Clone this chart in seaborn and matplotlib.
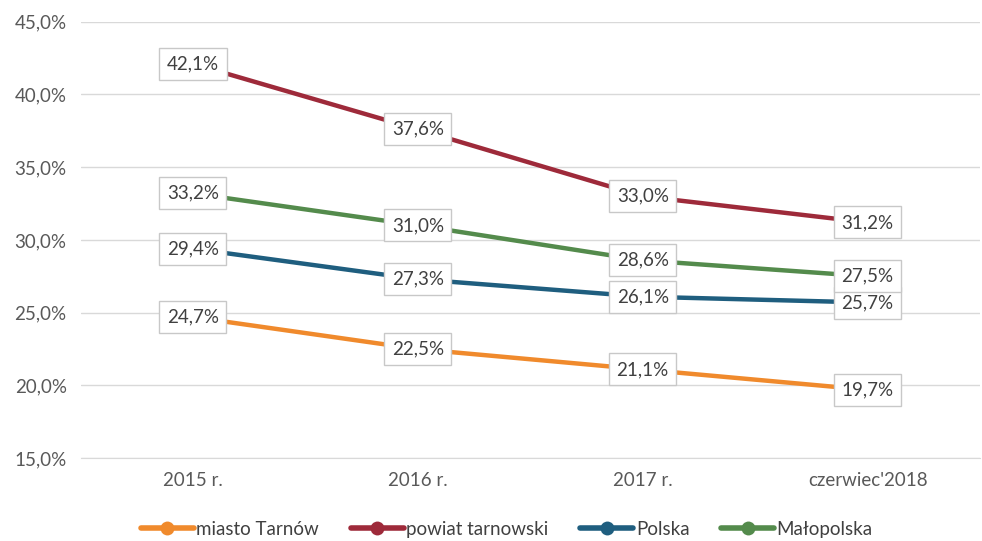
import pandas as pd
import numpy as np
import matplotlib.pyplot as plt
import seaborn as sns

# Data
categories = ["2015 r.", "2016 r.", "2017 r.", "czerwiec'2018"]
miasto_tarnow = [24.7, 22.5, 21.1, 19.7]
powiat_tarnowski = [42.1, 37.6, 33.0, 31.2]
polska = [29.4, 27.3, 26.1, 25.7]
malopolska = [33.2, 31.0, 28.6, 27.5]

series = {
    "miasto Tarnów": miasto_tarnow,
    "powiat tarnowski": powiat_tarnowski,
    "Polska": polska,
    "Małopolska": malopolska,
}
colors = ["#F08A2C", "#9E2A3A", "#1F5E7F", "#548B4C"]

rows = []
for name, vals in series.items():
    for i, v in enumerate(vals):
        rows.append({"kat": i, "label": categories[i], "seria": name, "wartosc": v})
df = pd.DataFrame(rows)

sns.set_style("white")
plt.rcParams['font.family'] = ['Lato', 'DejaVu Sans']

fig, ax = plt.subplots(figsize=(9.82, 5.41), dpi=100)
fig.subplots_adjust(left=0.082, right=0.998, top=0.96, bottom=0.153)

sns.lineplot(data=df, x="kat", y="wartosc", hue="seria", palette=colors,
             linewidth=3.2, marker="o", markersize=10, markeredgewidth=0,
             ax=ax, legend=True)

# Data labels centered on points
for name, vals in series.items():
    for i, v in enumerate(vals):
        ax.text(i, v, f"{v:.1f}%".replace(".", ","), ha="center", va="center",
                fontsize=13.5, color="#404040", zorder=5,
                bbox=dict(boxstyle="square,pad=0.4", fc="white", ec="#C8C8C8", lw=1))

ax.set_xlim(-0.5, 3.5)
ax.set_ylim(15, 45)
ax.set_yticks(np.arange(15, 46, 5))
ax.set_yticklabels([f"{t:.1f}%".replace(".", ",") for t in np.arange(15, 46, 5)])
ax.set_xticks(range(4))
ax.set_xticklabels(categories)
ax.tick_params(axis="both", labelsize=13.5, colors="#595959", length=0, pad=10)
ax.set_xlabel("")
ax.set_ylabel("")
ax.grid(axis="y", color="#D9D9D9", linewidth=1)
ax.set_axisbelow(True)
for s in ["top", "right", "left"]:
    ax.spines[s].set_visible(False)
ax.spines["bottom"].set_color("#D9D9D9")

leg = ax.legend(loc="upper center", bbox_to_anchor=(0.474, -0.105), ncol=4, frameon=False,
                fontsize=13.5, handlelength=2.8, handletextpad=0.15, columnspacing=1.7,
                labelcolor="#404040")
for h in leg.legend_handles:
    h.set_linewidth(4)

fig.savefig("out.png", dpi=100)
